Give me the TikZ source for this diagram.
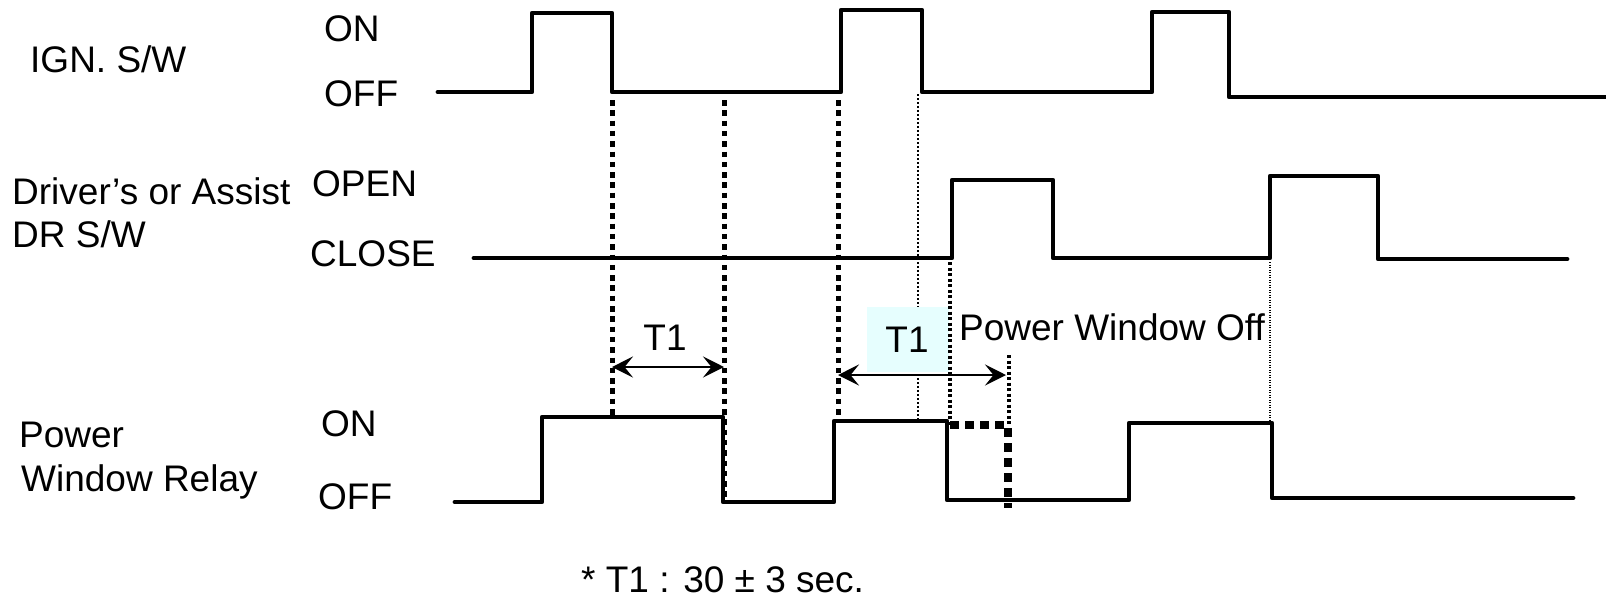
\documentclass[tikz,border=0pt]{standalone}
\usepackage{fontspec}
\setmainfont{Liberation Sans}
\usetikzlibrary{arrows.meta}
\definecolor{boxcyan}{RGB}{230,254,254}
\begin{document}
\begin{tikzpicture}[x=1pt,y=-1pt,
  wave/.style={line width=4.8pt, line join=round, line cap=round},
  lbl/.style={inner sep=0pt, anchor=west, text height=26.5pt, text depth=0pt, font=\fontsize{37}{41}\selectfont},
  ctr/.style={inner sep=0pt, anchor=center, text height=26.5pt, text depth=0pt, font=\fontsize{37}{41}\selectfont},
  thickdot/.style={line width=5pt, dash pattern=on 5.5pt off 4.8pt},
  middot/.style={line width=3.2pt, dash pattern=on 3pt off 2.5pt},
  thindot/.style={line width=2.2pt, dash pattern=on 2pt off 2pt},
  hairdot/.style={line width=1.3pt, dash pattern=on 1.3pt off 1.2pt},
  bigdash/.style={line width=7.5pt, dash pattern=on 9pt off 6pt},
  dim/.style={line width=2.6pt, {Stealth[length=21pt,width=21pt,inset=8.5pt]}-{Stealth[length=21pt,width=21pt,inset=8.5pt]}}]
\useasboundingbox (0,0) rectangle (1606,598);

% labels
\node[lbl] (ign) at (30,59.5) {IGN. S/W};
\node[lbl] (ignon) at (324,28) {ON};
\node[lbl] (ignoff) at (324,93.5) {OFF};
\node[lbl] (drv1) at (12,191) {Driver’s or Assist};
\node[lbl] (drv2) at (12,234.5) {DR S/W};
\node[lbl] (open) at (312,183) {OPEN};
\node[lbl] (close) at (310,253.5) {CLOSE};
\node[lbl] (pw1) at (19,434) {Power};
\node[lbl] (pw2) at (21,478.5) {Window Relay};
\node[lbl] (relon) at (321,423) {ON};
\node[lbl] (reloff) at (318,496) {OFF};
\node[lbl] (pwoff) at (959,327.5) {Power Window Off};
\node[lbl] (note) at (581,579) {* T1 : 30 ± 3 sec.};

% dotted guide lines
\draw[thickdot] (612,100) -- (612,417);
\draw[thickdot] (724,100) -- (724,502);
\draw[thickdot] (838,100) -- (838,420);
\draw[thindot] (918,94) -- (918,419);

% T1 box
\node[fill=boxcyan, minimum width=82pt, minimum height=65pt, inner sep=0pt] (t1box) at (908,339.5) {};
\node[ctr] (t1b) at (907,339) {T1};
\node[ctr] (t1a) at (665,337) {T1};

\draw[middot] (950,262) -- (950,425);
\draw[hairdot] (1270,262) -- (1270,423);
\draw[middot, line width=4pt] (1009,355) -- (1009,425);
\draw[bigdash] (950,425) -- (1009,425);
\draw[bigdash] (1008,428) -- (1008,508);

% dimension arrows
\coordinate (a1) at (612,367);
\coordinate (a2) at (724,367);
\coordinate (b1) at (838,375);
\coordinate (b2) at (1006,375);
\draw[dim] (a1) -- (a2);
\draw[dim] (b1) -- (b2);

% waveforms
\draw[wave] (438,92) -- (532,92) -- (532,13) -- (612,13) -- (612,92) -- (841,92) -- (841,10) -- (922,10) -- (922,92) -- (1152,92) -- (1152,12) -- (1229,12) -- (1229,97) -- (1610,97);
\draw[wave] (474,258) -- (952,258) -- (952,180) -- (1053,180) -- (1053,258) -- (1270,258) -- (1270,176) -- (1378,176) -- (1378,259) -- (1567,259);
\draw[wave] (455,502) -- (542,502) -- (542,417) -- (723,417) -- (723,502) -- (834,502) -- (834,421) -- (947,421) -- (947,500) -- (1129,500) -- (1129,423) -- (1272,423) -- (1272,498) -- (1573,498);
\end{tikzpicture}
\end{document}
